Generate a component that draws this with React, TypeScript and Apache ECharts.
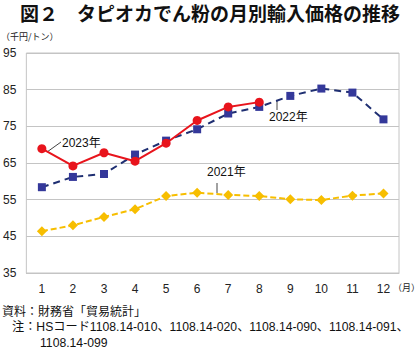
import React, { useEffect, useRef } from "react";
import * as echarts from "echarts";

const months = ["1", "2", "3", "4", "5", "6", "7", "8", "9", "10", "11", "12"];
const y2021 = [46.4, 48.0, 50.3, 52.4, 56.0, 56.9, 56.3, 56.0, 55.1, 54.9, 56.1, 56.7];
const y2022 = [58.4, 61.2, 62.0, 67.3, 71.1, 74.2, 78.5, 80.3, 83.3, 85.3, 84.2, 76.9];
const y2023 = [68.9, 64.2, 67.8, 65.5, 70.4, 76.6, 80.3, 81.6];
const yTicks = { min: 35, max: 95, interval: 10 };

const JP = "'Noto Sans CJK JP', 'Liberation Sans', sans-serif";
const NUM = "'Liberation Sans', 'Noto Sans CJK JP', sans-serif";

export default function App() {
  const ref = useRef<HTMLDivElement>(null);
  useEffect(() => {
    const chart = echarts.init(ref.current!, null, { renderer: "svg" });
    chart.setOption({
      animation: false,
      backgroundColor: "#ffffff",
      grid: {
        left: 25,
        right: 21,
        top: 53,
        bottom: 84,
        show: true,
        borderColor: "#c4c4c4",
        borderWidth: 1,
      },
      xAxis: {
        type: "category",
        data: months,
        boundaryGap: true,
        axisLine: { show: true, lineStyle: { color: "#c4c4c4" } },
        axisTick: { show: false },
        axisLabel: { color: "#222", fontSize: 12, fontFamily: NUM, margin: 10 },
      },
      yAxis: {
        type: "value",
        min: yTicks.min,
        max: yTicks.max,
        interval: yTicks.interval,
        axisLine: { show: false },
        axisTick: { show: false },
        splitLine: { lineStyle: { color: "#c4c4c4", width: 1 } },
        axisLabel: { color: "#222", fontSize: 12, fontFamily: NUM, margin: 10 },
      },
      series: [
        {
          name: "2021年",
          type: "line",
          data: y2021,
          symbol: "diamond",
          symbolSize: 10,
          itemStyle: { color: "#f7be00" },
          lineStyle: { color: "#f7be00", width: 2, type: [6, 3] },
          z: 2,
        },
        {
          name: "2022年",
          type: "line",
          data: y2022,
          symbol: "rect",
          symbolSize: 8,
          itemStyle: { color: "#34389a" },
          lineStyle: { color: "#1f2f72", width: 2, type: [7, 5] },
          z: 3,
        },
        {
          name: "2023年",
          type: "line",
          data: y2023,
          symbol: "circle",
          symbolSize: 9,
          itemStyle: { color: "#e8141c" },
          lineStyle: { color: "#e8141c", width: 2 },
          z: 4,
        },
      ],
      graphic: [
        {
          type: "text",
          left: 20,
          top: 1,
          style: {
            text: "図２　タピオカでん粉の月別輸入価格の推移",
            font: `bold 19px ${JP}`,
            lineHeight: 22,
            fill: "#111",
          },
        },
        {
          type: "text",
          left: 1,
          top: 32,
          style: { text: "（千円/トン）", font: `9px ${JP}`, fill: "#222" },
        },
        {
          type: "text",
          right: 0,
          top: 283,
          style: { text: "（月）", font: `9px ${JP}`, fill: "#222" },
        },
        {
          type: "text",
          left: 62,
          top: 137,
          style: { text: "2023年", font: `12px ${NUM}`, fill: "#111" },
        },
        {
          type: "line",
          shape: { x1: 47, y1: 152, x2: 61, y2: 142 },
          style: { stroke: "#444", lineWidth: 1 },
        },
        {
          type: "text",
          left: 269,
          top: 111,
          style: { text: "2022年", font: `12px ${NUM}`, fill: "#111" },
        },
        {
          type: "line",
          shape: { x1: 277, y1: 100, x2: 277, y2: 110 },
          style: { stroke: "#444", lineWidth: 1 },
        },
        {
          type: "text",
          left: 207,
          top: 166,
          style: { text: "2021年", font: `12px ${NUM}`, fill: "#111" },
        },
        {
          type: "line",
          shape: { x1: 217, y1: 183, x2: 217, y2: 193 },
          style: { stroke: "#444", lineWidth: 1 },
        },
        {
          type: "text",
          left: 2,
          top: 306,
          style: { text: "資料：財務省「貿易統計」", font: `12px ${NUM}`, fill: "#111" },
        },
        {
          type: "text",
          left: 12,
          top: 321,
          style: {
            text: "注：HSコード1108.14-010、1108.14-020、1108.14-090、1108.14-091、",
            font: `12.2px ${NUM}`,
            fill: "#111",
          },
        },
        {
          type: "text",
          left: 40,
          top: 337,
          style: { text: "1108.14-099", font: `12.2px ${NUM}`, fill: "#111" },
        },
      ],
    });
    return () => chart.dispose();
  }, []);
  return (
    <div
      ref={ref}
      style={{ position: "absolute", left: 0, top: 0, width: 420, height: 357 }}
    />
  );
}
